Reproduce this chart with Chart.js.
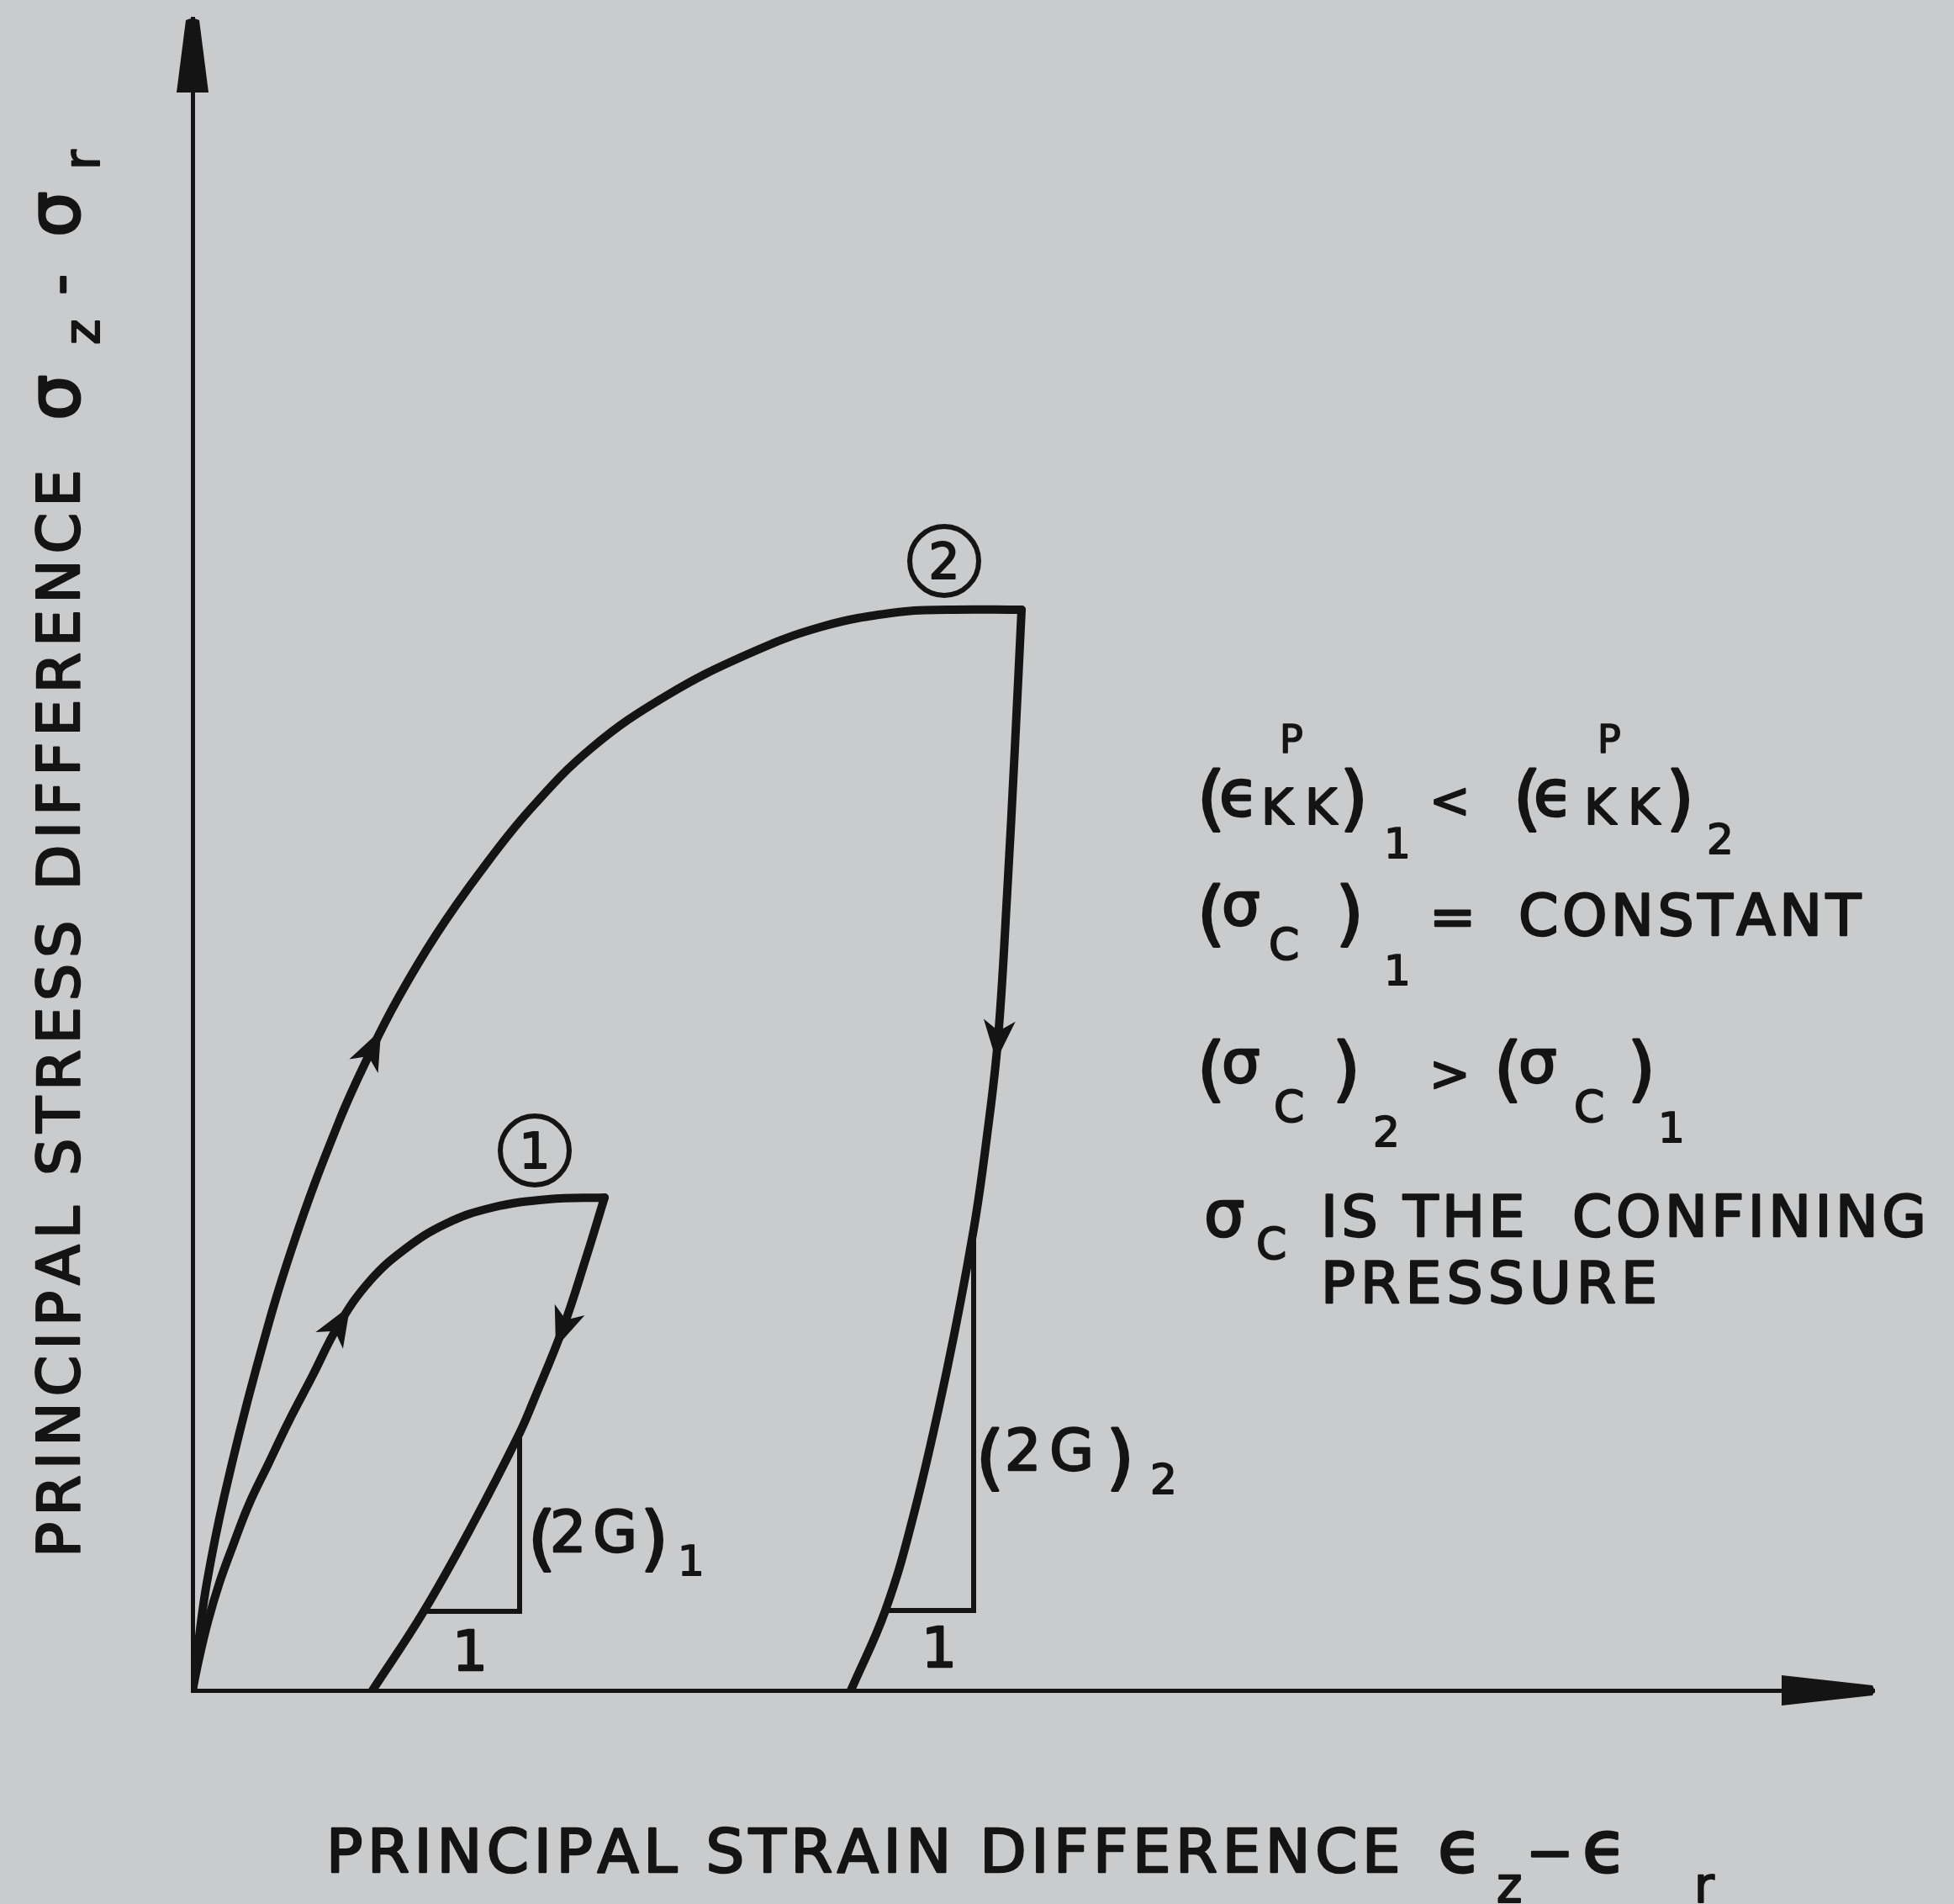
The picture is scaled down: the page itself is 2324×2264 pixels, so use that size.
<!DOCTYPE html>
<html lang="en">
<head>
<meta charset="utf-8">
<title>Principal stress difference vs principal strain difference</title>
<script src="https://cdn.jsdelivr.net/npm/chart.js@4.4.1/dist/chart.umd.min.js"></script>
<style>
  html, body { margin: 0; padding: 0; background: #c9cbcd; }
  canvas { display: block; }
</style>
</head>
<body>
<canvas id="grafico" width="2324" height="2264"></canvas>
<script>
// =========================================================
// Ciclos de carga / descarga: diferencia de esfuerzos principales
// frente a diferencia de deformaciones principales (Chart.js v4)
// =========================================================

// --- 1. Datos (unidades arbitrarias: x = deformación, y = esfuerzo) ---
// Ciclo 2 (mayor presión de confinamiento)
const carga2X = [0, 0.33, 0.85, 1.9, 3.75, 5.95, 8.7, 10.65, 12.25, 14.5, 17.1, 20.05, 23.75, 28.2, 33.0, 37.45, 41.9, 44.85, 49.3];
const carga2Y = [0, 2.7, 6.4, 11.6, 19.0, 26.4, 33.8, 38.1, 41.2, 44.95, 48.65, 52.35, 56.05, 59.15, 61.6, 63.25, 64.1, 64.25, 64.25];
const descarga2X = [49.3, 48.9, 48.45, 47.9, 47.25, 46.45, 44.85, 42.9, 41.2, 39.15];
const descarga2Y = [64.25, 56.0, 47.5, 38.75, 33.0, 27.4, 19.0, 10.5, 4.75, 0];

// Ciclo 1
const carga1X = [0, 0.4, 0.93, 1.6, 2.4, 3.35, 4.5, 5.75, 7.08, 8.7, 10.55, 12.65, 15.08, 17.8, 21.15, 24.5];
const carga1Y = [0, 1.95, 4.15, 6.4, 8.6, 11.05, 13.45, 16.05, 18.6, 21.75, 24.35, 26.25, 27.75, 28.7, 29.2, 29.3];
const descarga1X = [24.5, 23.38, 22.05, 20.25, 19.45, 16.7, 13.75, 10.7];
const descarga1Y = [29.3, 25.65, 21.6, 17.15, 15.3, 9.95, 4.7, 0];

// Triángulos de pendiente (2G)
const triangulo1X = [13.75, 19.45, 19.45];
const triangulo1Y = [4.7, 4.7, 15.3];
const triangulo2X = [41.2, 46.45, 46.45];
const triangulo2Y = [4.75, 4.75, 27.4];

// Punto (índice) de cada curva donde se dibuja la flecha de sentido
const flechaCarga2 = 7;
const flechaDescarga2 = 3;
const flechaCarga1 = 9;
const flechaDescarga1 = 2;

// Rango de los ejes (sin marcas ni números)
const ejeXMax = 100;
const ejeYMax = 99.4;

const TINTA = '#141414';
const FONDO = '#c9cbcd';
const FUENTE = '"DejaVu Sans", sans-serif';

// --- 2. Utilidades ---
function toPuntos(xs, ys) {
    return xs.map((x, i) => ({ x: x, y: ys[i] }));
}

function curva(xs, ys, flecha) {
    return {
        data: toPuntos(xs, ys),
        showLine: true,
        borderColor: TINTA,
        borderWidth: 10,
        borderCapStyle: 'round',
        borderJoinStyle: 'round',
        tension: 0.4,
        pointRadius: 0,
        flecha: flecha
    };
}

function triangulo(xs, ys) {
    return {
        data: toPuntos(xs, ys),
        showLine: true,
        borderColor: TINTA,
        borderWidth: 6,
        borderJoinStyle: 'miter',
        tension: 0,
        pointRadius: 0,
        flecha: null
    };
}

// Texto con trazo extra (rotulado grueso); 'ancho' reparte el espaciado
function texto(ctx, str, x, y, size, ancho) {
    ctx.font = `${size}px ${FUENTE}`;
    ctx.lineWidth = Math.max(1.5, size * 0.035);
    ctx.lineJoin = 'round';
    const pinta = (s, px) => {
        ctx.fillText(s, px, y);
        ctx.strokeText(s, px, y);
    };
    if (!ancho || str.length < 2) {
        pinta(str, x);
        return;
    }
    const natural = ctx.measureText(str).width;
    const extra = (ancho - natural) / (str.length - 1);
    let cx = x;
    for (const ch of str) {
        pinta(ch, cx);
        cx += ctx.measureText(ch).width + extra;
    }
}

function puntaFlecha(ctx, x, y, ang) {
    ctx.save();
    ctx.translate(x, y);
    ctx.rotate(ang);
    ctx.beginPath();
    ctx.moveTo(26, 0);
    ctx.lineTo(-22, -19);
    ctx.lineTo(-9, 0);
    ctx.lineTo(-22, 19);
    ctx.closePath();
    ctx.fill();
    ctx.restore();
}

function circulado(ctx, n, cx, cy) {
    ctx.beginPath();
    ctx.arc(cx, cy, 41, 0, Math.PI * 2);
    ctx.lineWidth = 6;
    ctx.stroke();
    ctx.textAlign = 'center';
    texto(ctx, n, cx, cy + 21, 58);
    ctx.textAlign = 'left';
}

// --- 3. Plugins ---
const fondo = {
    id: 'fondo',
    beforeDraw(chart) {
        const ctx = chart.ctx;
        ctx.save();
        ctx.fillStyle = FONDO;
        ctx.fillRect(0, 0, chart.width, chart.height);
        ctx.restore();
    }
};

// Puntas de los ejes y flechas de sentido sobre las curvas
const flechas = {
    id: 'flechas',
    afterDatasetsDraw(chart) {
        const ctx = chart.ctx;
        const area = chart.chartArea;
        const x0 = chart.scales.x.getPixelForValue(0);
        const y0 = chart.scales.y.getPixelForValue(0);
        ctx.save();
        ctx.fillStyle = TINTA;

        // eje vertical
        ctx.beginPath();
        ctx.moveTo(x0 - 19, area.top + 88);
        ctx.lineTo(x0 - 8, area.top + 2);
        ctx.quadraticCurveTo(x0, area.top - 2, x0 + 8, area.top + 2);
        ctx.lineTo(x0 + 19, area.top + 88);
        ctx.closePath();
        ctx.fill();

        // eje horizontal
        ctx.beginPath();
        ctx.moveTo(area.right - 110, y0 - 18);
        ctx.lineTo(area.right - 2, y0 - 6);
        ctx.quadraticCurveTo(area.right + 2, y0, area.right - 2, y0 + 6);
        ctx.lineTo(area.right - 110, y0 + 18);
        ctx.closePath();
        ctx.fill();

        chart.data.datasets.forEach((ds, i) => {
            if (ds.flecha == null) return;
            const pts = chart.getDatasetMeta(i).data;
            const k = ds.flecha;
            const a = pts[k - 1], b = pts[k + 1], p = pts[k];
            puntaFlecha(ctx, p.x, p.y, Math.atan2(b.y - a.y, b.x - a.x));
        });
        ctx.restore();
    }
};

// Rótulos de ejes, anotaciones y condiciones
const rotulos = {
    id: 'rotulos',
    afterDraw(chart) {
        const ctx = chart.ctx;
        ctx.save();
        ctx.fillStyle = TINTA;
        ctx.strokeStyle = TINTA;
        ctx.textAlign = 'left';
        ctx.textBaseline = 'alphabetic';

        // título eje y (girado)
        ctx.save();
        ctx.translate(94, 0);
        ctx.rotate(-Math.PI / 2);
        texto(ctx, 'PRINCIPAL STRESS DIFFERENCE', -1852, 0, 70, 1289);
        texto(ctx, 'σ', -500, 0, 86);
        texto(ctx, 'z', -410, 24, 58);
        texto(ctx, '-', -351, 0, 70);
        texto(ctx, 'σ', -282, 0, 86);
        texto(ctx, 'r', -202, 24, 58);
        ctx.restore();

        // título eje x
        texto(ctx, 'PRINCIPAL STRAIN DIFFERENCE', 388, 2226, 72, 1270);
        texto(ctx, 'ϵ', 1710, 2226, 86);
        texto(ctx, 'z', 1780, 2262, 58);
        texto(ctx, '−', 1815, 2226, 68);
        texto(ctx, 'ϵ', 1882, 2226, 86);
        texto(ctx, 'r', 2015, 2262, 58);

        // números en círculo sobre los picos
        circulado(ctx, '1', 636, 1368);
        circulado(ctx, '2', 1123, 667);

        // triángulos de pendiente
        texto(ctx, '1', 538, 1986, 66);
        texto(ctx, '1', 1096, 1982, 66);
        texto(ctx, '(', 628, 1858, 84);
        texto(ctx, '2G', 654, 1845, 68, 104);
        texto(ctx, ')', 762, 1858, 84);
        texto(ctx, '1', 806, 1873, 50);
        texto(ctx, '(', 1161, 1762, 84);
        texto(ctx, '2G', 1195, 1748, 68, 106);
        texto(ctx, ')', 1316, 1762, 84);
        texto(ctx, '2', 1368, 1776, 50);

        // (ε_KK^P)_1 < (ε_KK^P)_2
        texto(ctx, '(', 1424, 978, 84);
        texto(ctx, 'ϵ', 1450, 970, 76);
        texto(ctx, 'P', 1522, 895, 46);
        texto(ctx, 'KK', 1500, 980, 58, 90);
        texto(ctx, ')', 1594, 978, 84);
        texto(ctx, '1', 1646, 1020, 50);
        texto(ctx, '<', 1700, 972, 58);
        texto(ctx, '(', 1800, 978, 84);
        texto(ctx, 'ϵ', 1824, 970, 76);
        texto(ctx, 'P', 1900, 895, 46);
        texto(ctx, 'KK', 1884, 980, 58, 90);
        texto(ctx, ')', 1982, 978, 84);
        texto(ctx, '2', 2030, 1015, 50);

        // (σ_c)_1 = CONSTANT
        texto(ctx, '(', 1424, 1115, 84);
        texto(ctx, 'σ', 1453, 1100, 72);
        texto(ctx, 'C', 1509, 1141, 52);
        texto(ctx, ')', 1589, 1115, 84);
        texto(ctx, '1', 1646, 1171, 50);
        texto(ctx, '=', 1700, 1112, 66);
        texto(ctx, 'CONSTANT', 1806, 1112, 68, 402);

        // (σ_c)_2 > (σ_c)_1
        texto(ctx, '(', 1424, 1300, 84);
        texto(ctx, 'σ', 1453, 1287, 72);
        texto(ctx, 'C', 1515, 1334, 52);
        texto(ctx, ')', 1585, 1300, 84);
        texto(ctx, '2', 1633, 1363, 50);
        texto(ctx, '>', 1700, 1297, 58);
        texto(ctx, '(', 1777, 1300, 84);
        texto(ctx, 'σ', 1806, 1287, 72);
        texto(ctx, 'C', 1872, 1334, 52);
        texto(ctx, ')', 1936, 1300, 84);
        texto(ctx, '1', 1972, 1358, 50);

        // σ_c IS THE CONFINING PRESSURE
        texto(ctx, 'σ', 1432, 1470, 76);
        texto(ctx, 'C', 1494, 1497, 52);
        texto(ctx, 'IS THE  CONFINING', 1571, 1470, 68, 720);
        texto(ctx, 'PRESSURE', 1571, 1549, 68, 400);

        ctx.restore();
    }
};

// --- 4. Gráfico ---
const ctx = document.getElementById('grafico');

const datasets = [
    curva(carga2X, carga2Y, flechaCarga2),
    curva(descarga2X, descarga2Y, flechaDescarga2),
    curva(carga1X, carga1Y, flechaCarga1),
    curva(descarga1X, descarga1Y, flechaDescarga1),
    triangulo(triangulo1X, triangulo1Y),
    triangulo(triangulo2X, triangulo2Y)
];

const ejeSinMarcas = (max, esX) => ({
    type: 'linear',
    min: 0,
    max: max,
    ticks: { display: false },
    grid: { display: false, drawTicks: false },
    border: { display: true, width: 5, color: TINTA },
    title: { display: false },
    afterFit: (scale) => {
        if (esX) scale.height = 0; else scale.width = 0;
    }
});

const grafico = new Chart(ctx, {
    type: 'scatter',
    data: { datasets: datasets },
    options: {
        responsive: false,
        animation: false,
        devicePixelRatio: 1,
        layout: { padding: { left: 229, right: 95, top: 22, bottom: 254 } },
        plugins: {
            legend: { display: false },
            tooltip: { enabled: false }
        },
        scales: {
            x: ejeSinMarcas(ejeXMax, true),
            y: ejeSinMarcas(ejeYMax, false)
        }
    },
    plugins: [fondo, flechas, rotulos]
});
</script>
</body>
</html>
